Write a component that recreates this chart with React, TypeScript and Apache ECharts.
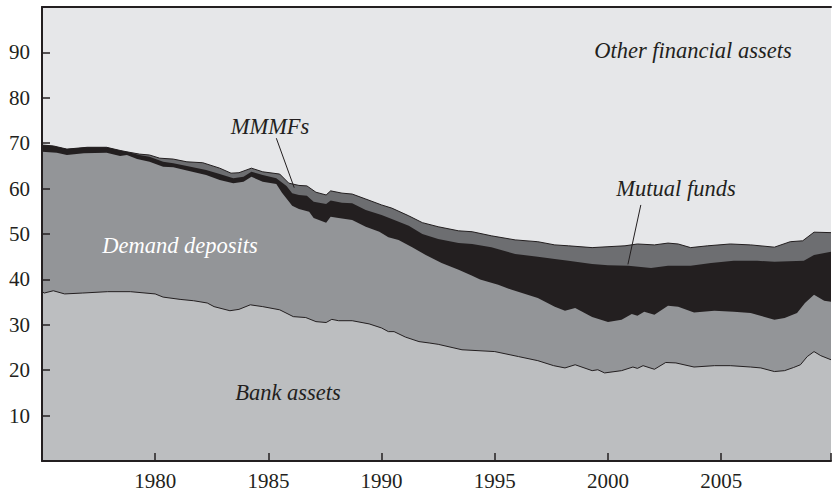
import React, { useEffect, useRef } from "react";
import * as echarts from "echarts";

// [year, cumulative share of household financial assets, %]
const bankAssetsTop: [number, number][] = [
  [1975, 37.3], [1975.1, 37.0], [1975.5, 37.5], [1976, 36.8], [1976.8, 37.0], [1977.9, 37.3],
  [1978.9, 37.3], [1980, 36.8], [1980.35, 36.1], [1981.1, 35.6], [1981.7, 35.3], [1982.3, 34.8],
  [1982.6, 34.0], [1983.3, 33.1], [1983.7, 33.4], [1984.2, 34.4], [1984.75, 34.0], [1985.5, 33.3],
  [1986.1, 31.8], [1986.65, 31.6], [1987.1, 30.7], [1987.55, 30.5], [1987.8, 31.2], [1988.1, 30.9],
  [1988.7, 30.9], [1989.45, 30.2], [1990, 29.3], [1990.3, 28.5], [1990.55, 28.5], [1991.05, 27.3],
  [1991.65, 26.3], [1992.1, 26.0], [1992.5, 25.7], [1993.55, 24.5], [1995, 24.1], [1996.05, 23.0],
  [1996.9, 22.1], [1997.6, 21.0], [1998.1, 20.5], [1998.55, 21.2], [1999.3, 19.9], [1999.55, 20.1],
  [1999.85, 19.4], [2000.6, 19.9], [2001.1, 20.7], [2001.3, 20.4], [2001.55, 21.0], [2002.05, 20.2],
  [2002.55, 21.7], [2003, 21.6], [2003.8, 20.7], [2004.7, 21.0], [2005.4, 21.0], [2006.3, 20.7],
  [2006.75, 20.5], [2007.35, 19.7], [2007.8, 19.9], [2008.2, 20.6], [2008.5, 21.2], [2008.8, 23.0],
  [2009.1, 24.1], [2009.4, 23.2], [2009.85, 22.3],
];

const demandDepositsTop: [number, number][] = [
  [1975, 68.1], [1975.65, 67.9], [1976.1, 67.4], [1976.85, 67.8], [1977.85, 67.9], [1978.45, 67.2],
  [1978.75, 67.4], [1979.2, 66.5], [1979.75, 65.9], [1980.35, 64.8], [1980.8, 64.7], [1981.4, 64.0],
  [1982.25, 63.0], [1982.85, 61.9], [1983.45, 61.2], [1983.9, 61.5], [1984.25, 62.6], [1984.75, 61.5],
  [1985.35, 61.0], [1985.6, 59.1], [1986.05, 56.2], [1986.35, 55.5], [1986.8, 54.9], [1987.0, 53.5],
  [1987.55, 52.5], [1987.75, 53.8], [1988.1, 53.5], [1988.7, 53.1], [1989.3, 51.6], [1989.9, 50.5],
  [1990.3, 49.3], [1990.75, 48.7], [1991.35, 47.1], [1991.95, 45.4], [1992.65, 43.6], [1993.4, 42.1],
  [1994.0, 40.8], [1994.35, 40.0], [1995.15, 38.8], [1995.75, 37.7], [1996.9, 35.9], [1997.65, 34.0],
  [1998.1, 33.1], [1998.55, 33.7], [1999.3, 31.7], [2000.0, 30.6], [2000.6, 31.1], [2001.05, 32.4],
  [2001.3, 32.0], [2001.6, 32.9], [2002.05, 32.2], [2002.65, 34.2], [2003.1, 34.0], [2003.8, 32.7],
  [2004.7, 33.1], [2005.55, 32.9], [2006.3, 32.6], [2007.35, 31.1], [2007.8, 31.5], [2008.35, 32.6],
  [2008.7, 34.8], [2009.1, 36.6], [2009.55, 35.3], [2009.85, 35.1],
];

const mutualFundsTop: [number, number][] = [
  [1975, 69.6], [1975.5, 69.4], [1976.1, 68.7], [1977.0, 69.1], [1977.85, 69.1], [1978.45, 68.4],
  [1978.75, 68.1], [1979.3, 67.4], [1979.75, 67.0], [1980.35, 65.9], [1980.8, 65.6], [1981.4, 65.0],
  [1982.25, 64.1], [1982.85, 63.2], [1983.45, 62.3], [1983.9, 62.6], [1984.25, 63.7], [1984.75, 63.0],
  [1985.35, 62.3], [1985.8, 60.6], [1986.05, 59.0], [1986.35, 58.6], [1986.7, 58.4], [1987.0, 57.1],
  [1987.55, 56.6], [1987.75, 57.4], [1988.25, 56.9], [1988.7, 56.8], [1989.3, 55.3], [1990.0, 54.2],
  [1990.45, 53.3], [1991.2, 51.8], [1991.8, 50.0], [1992.5, 48.9], [1993.4, 48.0], [1994.0, 47.8],
  [1994.85, 47.1], [1995.9, 45.6], [1996.9, 45.0], [1997.65, 44.5], [1998.25, 44.1], [1999.3, 43.4],
  [2000.0, 43.1], [2000.9, 43.0], [2001.9, 42.5], [2002.65, 43.0], [2003.65, 43.0], [2004.55, 43.6],
  [2005.55, 44.1], [2006.6, 44.1], [2007.35, 43.9], [2008.65, 44.1], [2009.1, 45.4], [2009.85, 46.1],
];

const mmmfsTop: [number, number][] = [
  [1975, 69.6], [1975.5, 69.4], [1976.1, 68.7], [1977.0, 69.1], [1977.85, 69.1], [1978.45, 68.4],
  [1978.75, 68.1], [1979.3, 67.6], [1979.75, 67.4], [1980.2, 66.7], [1980.8, 66.5], [1981.4, 65.9],
  [1982.1, 65.7], [1982.85, 64.5], [1983.35, 63.4], [1983.7, 63.5], [1984.25, 64.5], [1984.75, 63.7],
  [1985.5, 63.2], [1985.9, 61.2], [1986.35, 60.7], [1986.7, 60.6], [1987.1, 59.2], [1987.55, 58.6],
  [1987.75, 59.5], [1988.25, 59.0], [1988.7, 58.8], [1989.3, 57.7], [1990.0, 56.4], [1990.45, 55.7],
  [1991.2, 54.0], [1991.8, 52.5], [1992.5, 51.6], [1993.4, 50.7], [1994.0, 50.5], [1994.85, 49.6],
  [1995.9, 48.7], [1996.9, 48.3], [1997.65, 47.6], [1998.25, 47.4], [1999.3, 47.0], [2000.0, 47.2],
  [2000.75, 47.4], [2001.3, 47.8], [2002.05, 47.6], [2002.65, 48.0], [2003.1, 47.8], [2003.65, 47.0],
  [2004.4, 47.4], [2005.4, 47.8], [2006.3, 47.6], [2007.35, 47.1], [2008.05, 48.3], [2008.6, 48.5],
  [2009.1, 50.4], [2009.85, 50.3],
];

const otherTop: [number, number][] = [
  [1975, 100], [2009.85, 100],
];

const mmmfPointer: [number, number][] = [[1985.35, 71.1], [1986.14, 60.2]];
const mutualPointer: [number, number][] = [[2001.45, 56.4], [2000.88, 43.3]];

const X_MIN = 1975;
const X_MAX = 2009.85;

const FONT = "'Liberation Serif', 'DejaVu Serif', serif";
const INK = "#231f20";
const LABEL_FONT = `italic 22.5px ${FONT}`;

export default function App() {
  const ref = useRef<HTMLDivElement>(null);

  useEffect(() => {
    if (!ref.current) return;
    const chart = echarts.init(ref.current, undefined, { renderer: "svg" });

    const area = (name: string, data: [number, number][], color: string, lineW: number, extra: any = {}) => ({
      name,
      type: "line",
      data,
      showSymbol: false,
      symbol: "none",
      smooth: false,
      silent: true,
      lineStyle: { color: lineW > 0 ? INK : color, width: lineW > 0 ? lineW : 0 },
      areaStyle: { color, opacity: 1, origin: "start" },
      ...extra,
    });

    chart.setOption({
      animation: false,
      grid: { left: 42, right: 0, top: 7, bottom: 33, containLabel: false },
      xAxis: [
        {
          type: "value",
          min: X_MIN,
          max: X_MAX,
          interval: 5,
          axisLine: { show: true, lineStyle: { color: INK, width: 2 } },
          axisTick: { show: true, inside: true, length: 8, lineStyle: { color: INK, width: 1.5 } },
          splitLine: { show: false },
          axisLabel: {
            margin: 9,
            color: INK,
            fontFamily: FONT,
            fontSize: 21,
            formatter: (v: number) => (v > X_MIN && v % 5 === 0 ? String(v) : ""),
          },
          z: 10,
        },
        {
          type: "value",
          position: "top",
          min: X_MIN,
          max: X_MAX,
          axisLine: { show: true, lineStyle: { color: INK, width: 2 } },
          axisTick: { show: false },
          axisLabel: { show: false },
          splitLine: { show: false },
          z: 10,
        },
      ],
      yAxis: {
        type: "value",
        min: 0,
        max: 100,
        interval: 10,
        axisLine: { show: true, lineStyle: { color: INK, width: 2 } },
        axisTick: { show: true, inside: true, length: 8, lineStyle: { color: INK, width: 1.5 } },
        splitLine: { show: false },
        axisLabel: {
          margin: 12,
          color: INK,
          fontFamily: FONT,
          fontSize: 21,
          formatter: (v: number) => (v > 0 && v < 100 ? String(v) : ""),
        },
        z: 10,
      },
      series: [
        area("Other financial assets", otherTop, "#e6e7e9", 0),
        area("MMMFs", mmmfsTop, "#6d6e71", 1),
        area("Mutual funds", mutualFundsTop, "#231f20", 0),
        area("Demand deposits", demandDepositsTop, "#939598", 0),
        area("Bank assets", bankAssetsTop, "#bcbec0", 1, {
          z: 3,
          markLine: {
            silent: true,
            symbol: ["none", "none"],
            label: { show: false },
            lineStyle: { color: INK, width: 1, type: "solid" },
            data: [
              [{ coord: mmmfPointer[0] }, { coord: mmmfPointer[1] }],
              [{ coord: mutualPointer[0] }, { coord: mutualPointer[1] }],
            ],
          },
        }),
      ],
      graphic: [
        { type: "text", x: 693, y: 50, z: 20, style: { text: "Other financial assets", fill: INK, font: LABEL_FONT, align: "center", verticalAlign: "middle" } },
        { type: "text", x: 270, y: 126, z: 20, style: { text: "MMMFs", fill: INK, font: LABEL_FONT, align: "center", verticalAlign: "middle" } },
        { type: "text", x: 180, y: 245, z: 20, style: { text: "Demand deposits", fill: "#ffffff", font: LABEL_FONT, align: "center", verticalAlign: "middle" } },
        { type: "text", x: 676, y: 188, z: 20, style: { text: "Mutual funds", fill: INK, font: LABEL_FONT, align: "center", verticalAlign: "middle" } },
        { type: "text", x: 288, y: 392, z: 20, style: { text: "Bank assets", fill: INK, font: LABEL_FONT, align: "center", verticalAlign: "middle" } },
      ],
    });

    return () => chart.dispose();
  }, []);

  return (
    <div
      ref={ref}
      style={{ position: "fixed", left: 0, top: 0, width: 834, height: 494, background: "#ffffff" }}
    />
  );
}
